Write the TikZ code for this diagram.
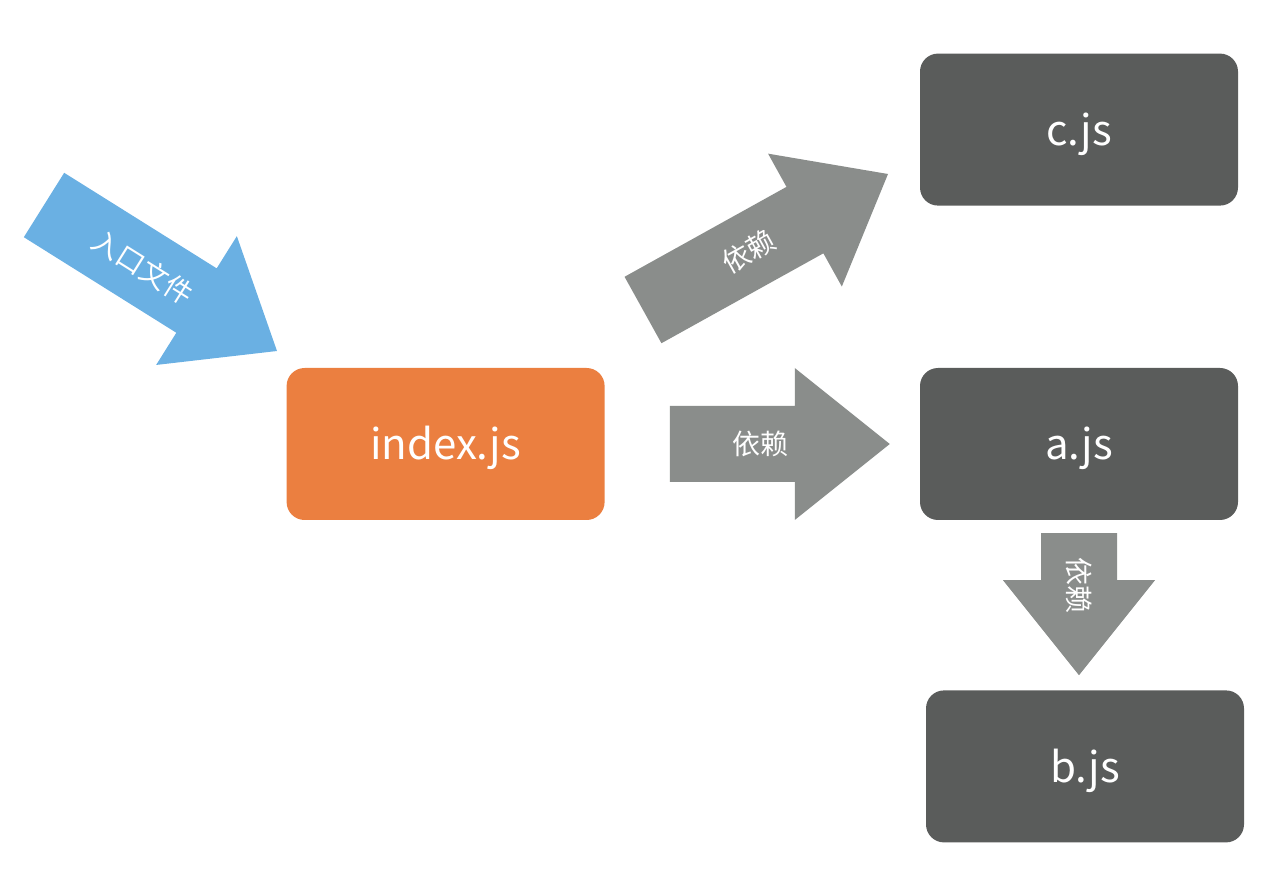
\documentclass[tikz,border=0pt]{standalone}
\usepackage{fontspec}
\setmainfont{Noto Sans CJK SC}
\usepackage{tikz,xcolor}
\usetikzlibrary{calc, positioning}

% block arrow: #1 tail, #2 tip, #3 fill, #4 label pos, #5 label
\newcommand{\blockarrow}[5]{%
  \coordinate (hb) at ($(#2)!95pt!(#1)$);
  \fill[#3] ($(#1)!38pt!90:(#2)$) -- ($(hb)!38pt!-90:(#1)$) -- ($(hb)!76pt!-90:(#1)$)
    -- (#2) -- ($(hb)!76pt!90:(#1)$) -- ($(hb)!38pt!90:(#1)$) -- ($(#1)!38pt!-90:(#2)$) -- cycle;
  \path (#1) -- (#2) node[pos=#4, sloped, arrowlabel] {#5};
}

\begin{document}
\begin{tikzpicture}[x=1pt, y=-1pt]

\definecolor{idxcolor}{HTML}{EB7F40}
\definecolor{filecolor}{HTML}{5A5C5B}
\definecolor{depcolor}{HTML}{8A8D8B}
\definecolor{entrycolor}{HTML}{6AB0E3}

\tikzstyle{jsbox} = [rectangle, rounded corners=18pt, fill=filecolor, text=white, minimum width=318pt, minimum height=152pt, text height=36pt, text depth=4pt, font=\fontsize{42}{50}\selectfont]
\tikzstyle{arrowlabel} = [text=white, inner sep=0pt, font=\fontsize{28}{34}\selectfont]

\useasboundingbox (0,0) rectangle (1270,874);

\node[jsbox] (a) at (1079,444) {a.js};
\node[jsbox, fill=idxcolor, left=315pt of a] (idx) {index.js};
\node[jsbox, above=162pt of a] (c) {c.js};
\node[jsbox, below=170pt of a, xshift=6pt] (b) {b.js};

\coordinate (entrytail) at (44,205);
\coordinate (entrytip) at (277,351);
\coordinate (ctail) at (643,310);
\coordinate (ctip) at (888,174);
\coordinate (atail) at ($(idx.east)+(65,0)$);
\coordinate (atip) at ($(a.west)+(-30,0)$);
\coordinate (btail) at ($(a.south)+(0,13)$);
\coordinate (btip) at ($(b.north)+(-6,-15)$);

\blockarrow{entrytail}{entrytip}{entrycolor}{0.425}{入口文件}
\blockarrow{ctail}{ctip}{depcolor}{0.43}{依赖}
\blockarrow{atail}{atip}{depcolor}{0.41}{依赖}
\blockarrow{btail}{btip}{depcolor}{0.37}{依赖}

\end{tikzpicture}
\end{document}
